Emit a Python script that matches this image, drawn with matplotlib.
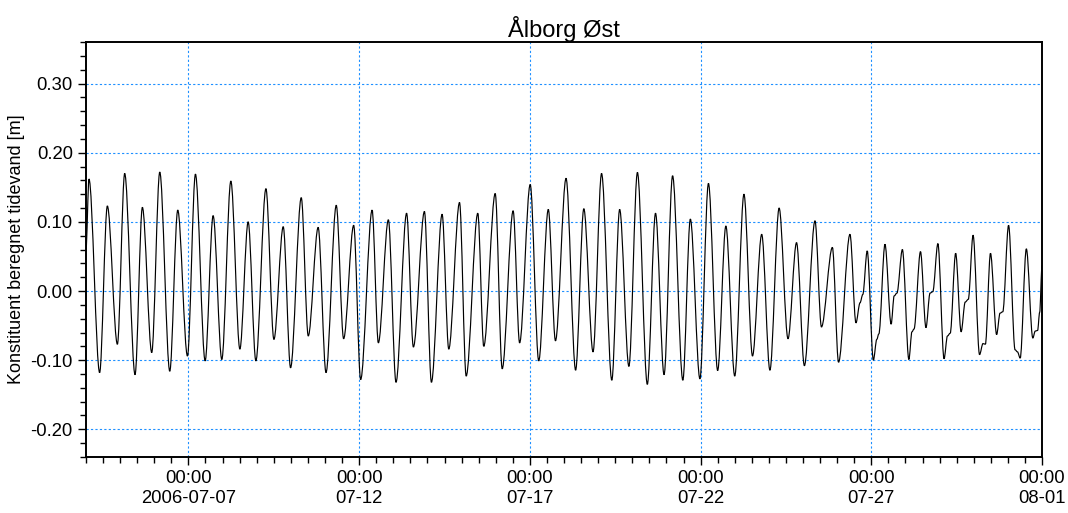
import numpy as np
import pandas as pd
import matplotlib
matplotlib.use('Agg')
import matplotlib.pyplot as plt
import matplotlib.dates as mdates
from matplotlib.path import Path
from matplotlib.patches import PathPatch
from matplotlib.ticker import MultipleLocator, FormatStrFormatter, FixedLocator

plt.rcParams['font.family'] = ['Liberation Sans', 'DejaVu Sans']

# days after 2006-07-04 00:00 and water level [m]
t_days = [0.0, 0.088, 0.40, 0.626, 0.92, 1.134, 1.437, 1.652, 1.926, 2.161,
          2.454, 2.688, 2.972, 3.206, 3.49, 3.724, 3.978, 4.243, 4.507, 4.75,
          4.976, 5.27, 5.504, 5.777, 5.992, 6.305, 6.51, 6.80, 7.03, 7.33,
          7.546, 7.84, 8.045, 8.38, 8.563, 8.856, 9.08, 9.39, 9.589, 9.912,
          10.117, 10.43, 10.625, 10.94, 11.135, 11.475, 11.65, 11.985, 12.19, 12.51,
          12.70, 13.01, 13.26, 13.54, 13.75, 14.06, 14.34, 14.58, 14.85, 15.10,
          15.40, 15.63, 15.90, 16.15, 16.44, 16.68, 16.93, 17.18, 17.48, 17.70,
          17.98, 18.23, 18.50, 18.74, 19.00, 19.27, 19.52, 19.79, 20.03, 20.30,
          20.56, 20.81, 21.04, 21.35, 21.54, 21.86, 22.04, 22.375, 22.55, 22.67,
          22.75, 22.88, 23.06, 23.16, 23.22, 23.40, 23.58, 23.67, 23.75, 23.91,
          24.10, 24.19, 24.25, 24.44, 24.60, 24.72, 24.80, 24.95, 25.13, 25.23,
          25.31, 25.47, 25.63, 25.75, 25.84, 25.98, 26.17, 26.27, 26.34, 26.49,
          26.67, 26.77, 26.85, 27.02, 27.21, 27.28, 27.36, 27.54, 27.73, 27.80,
          27.87, 27.93, 28.0]
level = [0.06, 0.162, -0.118, 0.123, -0.077, 0.170, -0.121, 0.121, -0.089, 0.172,
         -0.116, 0.117, -0.094, 0.169, -0.101, 0.109, -0.099, 0.159, -0.084, 0.100,
         -0.101, 0.148, -0.070, 0.093, -0.111, 0.135, -0.065, 0.092, -0.118, 0.124,
         -0.069, 0.095, -0.128, 0.117, -0.075, 0.103, -0.132, 0.1125, -0.081, 0.115,
         -0.132, 0.111, -0.084, 0.128, -0.123, 0.1125, -0.080, 0.141, -0.1125, 0.116,
         -0.075, 0.154, -0.101, 0.118, -0.072, 0.163, -0.1145, 0.119, -0.088, 0.170,
         -0.129, 0.118, -0.109, 0.1715, -0.135, 0.1125, -0.121, 0.1667, -0.129, 0.104,
         -0.127, 0.1556, -0.115, 0.094, -0.123, 0.140, -0.094, 0.082, -0.1145, 0.120,
         -0.069, 0.070, -0.108, 0.1015, -0.052, 0.063, -0.103, 0.082, -0.046, -0.017,
         -0.005, 0.058, -0.100, -0.070, -0.062, 0.0676, -0.048, -0.007, -0.003, 0.060,
         -0.099, -0.059, -0.055, 0.057, -0.053, -0.003, -0.001, 0.0686, -0.098, -0.065,
         -0.061, 0.0546, -0.059, -0.016, -0.012, 0.0807, -0.092, -0.076, -0.077, 0.0546,
         -0.063, -0.032, -0.030, 0.095, -0.085, -0.088, -0.097, 0.061, -0.068, -0.058,
         -0.057, -0.031, 0.037]

major_days = ['2006-07-07', '2006-07-12', '2006-07-17', '2006-07-22', '2006-07-27', '2006-08-01']
major_labels = ['00:00\n2006-07-07', '00:00\n07-12', '00:00\n07-17',
                '00:00\n07-22', '00:00\n07-27', '00:00\n08-01']

start = pd.Timestamp('2006-07-04 00:00')
end = pd.Timestamp('2006-08-01 00:00')
times = start + pd.to_timedelta(t_days, unit='D')

fig = plt.figure(figsize=(10.68, 5.13), dpi=100)
ax = fig.add_axes([0.0805, 0.1092, 0.8952, 0.8088])
ax.xaxis_date()

# smooth line through the turning points (flat tangent at each point)
xs = mdates.date2num(times.to_pydatetime())
verts = [(xs[0], level[0])]
codes = [Path.MOVETO]
for i in range(1, len(xs)):
    dx = xs[i] - xs[i - 1]
    verts += [(xs[i - 1] + dx / 3, level[i - 1]), (xs[i] - dx / 3, level[i]), (xs[i], level[i])]
    codes += [Path.CURVE4] * 3
ax.add_patch(PathPatch(Path(verts, codes), fill=False, ec='black', lw=0.85, zorder=3))

ax.set_xlim(mdates.date2num(start.to_pydatetime()), mdates.date2num(end.to_pydatetime()))
ax.set_ylim(-0.24, 0.36)

major_pos = mdates.date2num(pd.to_datetime(major_days).to_pydatetime())
ax.xaxis.set_major_locator(FixedLocator(major_pos))
ax.set_xticklabels(major_labels)
ax.xaxis.set_minor_locator(mdates.HourLocator(byhour=[0, 12]))

ax.yaxis.set_major_locator(MultipleLocator(0.1))
ax.yaxis.set_minor_locator(MultipleLocator(0.02))
ax.yaxis.set_major_formatter(FormatStrFormatter('%.2f'))

ax.grid(True, which='major', color='#1E90FF', linestyle=(0, (2, 2)), lw=0.8)
ax.tick_params(which='major', length=6, width=1, labelsize=13.3, direction='out')
ax.tick_params(which='minor', length=4, width=1, direction='out')
for s in ax.spines.values():
    s.set_linewidth(1.4)

ax.set_ylabel('Konstituent beregnet tidevand [m]', fontsize=13, labelpad=4)
ax.set_title('Ålborg Øst', fontsize=17, pad=4)

fig.savefig('out.png', dpi=100)
